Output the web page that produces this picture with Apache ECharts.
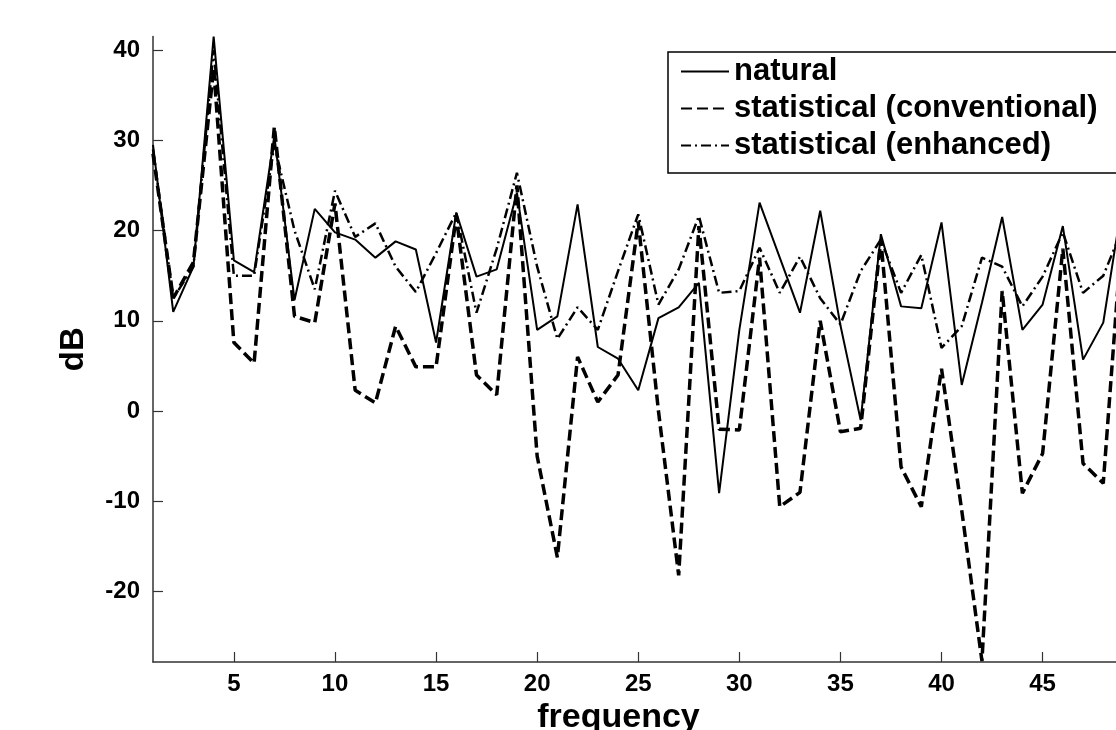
<!DOCTYPE html>
<html>
<head>
<meta charset="utf-8">
<script src="https://cdn.jsdelivr.net/npm/echarts@6/dist/echarts.min.js"></script>
<style>
  html, body { margin: 0; padding: 0; background: #ffffff; }
  #chart { width: 1116px; height: 730px; }
</style>
</head>
<body>
<div id="chart"></div>
<script>
// frequency index 1..49
const frequency = [1,2,3,4,5,6,7,8,9,10,11,12,13,14,15,16,17,18,19,20,21,22,23,24,25,26,27,28,29,30,31,32,33,34,35,36,37,38,39,40,41,42,43,44,45,46,47,48,49];

const natural = [29.5,11,16,41.5,16.7,15.4,30.5,12.3,22.4,19.8,19,17,18.8,17.9,7.6,22,14.9,15.7,24.2,9,10.5,22.9,7.1,5.8,2.3,10.3,11.5,14.2,-9.1,9,23.1,17,10.9,22.2,9.5,-1,19.6,11.6,11.4,20.9,2.9,12,21.5,9,11.8,20.5,5.7,9.8,24];

const conventional = [28.5,12.5,16.5,38,7.6,5.3,31.5,10.5,9.8,23,2.3,0.9,9.4,4.9,4.9,21.6,4,1.8,25,-5,-16.2,6,1,4,21,0,-18.2,20.5,-2,-2.1,17,-10.6,-9,10,-2.3,-1.9,19,-6.2,-10.6,4.7,-11,-27.7,13.3,-9.1,-4.7,18,-5.8,-8,22];

const enhanced = [29,12.5,16,40,15,15,29.5,20,13.5,24.4,19.3,20.8,16,13.2,17.5,22,10.9,18,26.4,16,8,11.5,9,15.5,21.8,11.8,15.7,21.6,13.1,13.3,18.1,13.1,17.1,12.5,9.6,15.5,19,13.1,17.3,7,9.4,17,16,11.6,14.9,19.8,13.1,15,20.5];

const xTicks = [5,10,15,20,25,30,35,40,45];
const yTicks = [-20,-10,0,10,20,30,40];

const seriesNames = ['natural', 'statistical (conventional)', 'statistical (enhanced)'];

function pairs(vals) { return frequency.map((f, i) => [f, vals[i]]); }

const FONT = 'Liberation Sans';

const chart = echarts.init(document.getElementById('chart'), null, { renderer: 'canvas' });

chart.setOption({
  animation: false,
  backgroundColor: '#ffffff',
  color: ['#000000', '#000000', '#000000'],
  grid: { left: 153, right: 0, top: 36.5, bottom: 68, containLabel: false, outerBoundsMode: 'none' },
  legend: {
    orient: 'vertical',
    left: 668,
    top: 52,
    data: seriesNames,
    itemWidth: 48,
    itemHeight: 14,
    itemGap: 6,
    padding: [4, 40, 12, 12],
    backgroundColor: '#ffffff',
    borderColor: '#000000',
    borderWidth: 1.5,
    itemStyle: { color: 'transparent', borderWidth: 0, opacity: 0 },
    textStyle: { fontFamily: FONT, fontWeight: 'bold', fontSize: 31, color: '#000', lineHeight: 31 }
  },
  xAxis: {
    type: 'value',
    min: 1,
    max: 48.63,
    name: 'frequency',
    nameLocation: 'middle',
    nameGap: 34,
    nameTextStyle: { fontFamily: FONT, fontWeight: 'bold', fontSize: 34, color: '#000', padding: [0, 32, 0, 0] },
    axisLine: { show: true, onZero: false, lineStyle: { color: '#333', width: 1.5 } },
    axisTick: { show: true, inside: true, length: 10, customValues: xTicks, lineStyle: { color: '#333', width: 1.2 } },
    axisLabel: { customValues: xTicks, margin: 10, fontFamily: FONT, fontWeight: 'bold', fontSize: 24, color: '#000' },
    splitLine: { show: false }
  },
  yAxis: {
    type: 'value',
    min: -27.8,
    max: 41.5,
    name: 'dB',
    nameLocation: 'middle',
    nameGap: 63,
    nameRotate: 90,
    nameTextStyle: { fontFamily: FONT, fontWeight: 'bold', fontSize: 33, color: '#000' },
    axisLine: { show: true, onZero: false, lineStyle: { color: '#333', width: 1.5 } },
    axisTick: { show: true, inside: true, length: 10, customValues: yTicks, lineStyle: { color: '#333', width: 1.2 } },
    axisLabel: { customValues: yTicks, margin: 13, fontFamily: FONT, fontWeight: 'bold', fontSize: 24, color: '#000' },
    splitLine: { show: false }
  },
  series: [
    {
      name: seriesNames[0], type: 'line', data: pairs(natural), symbol: 'none', z: 3,
      itemStyle: { color: '#000' },
      lineStyle: { color: '#000', width: 2, type: 'solid' }
    },
    {
      name: seriesNames[1], type: 'line', data: pairs(conventional), symbol: 'none', z: 2,
      itemStyle: { color: '#000' },
      lineStyle: { color: '#000', width: 3.5, type: [11, 5] }
    },
    {
      name: seriesNames[2], type: 'line', data: pairs(enhanced), symbol: 'none', z: 2,
      itemStyle: { color: '#000' },
      lineStyle: { color: '#000', width: 2.5, type: [10, 4, 2, 4] }
    }
  ]
});
</script>
</body>
</html>
